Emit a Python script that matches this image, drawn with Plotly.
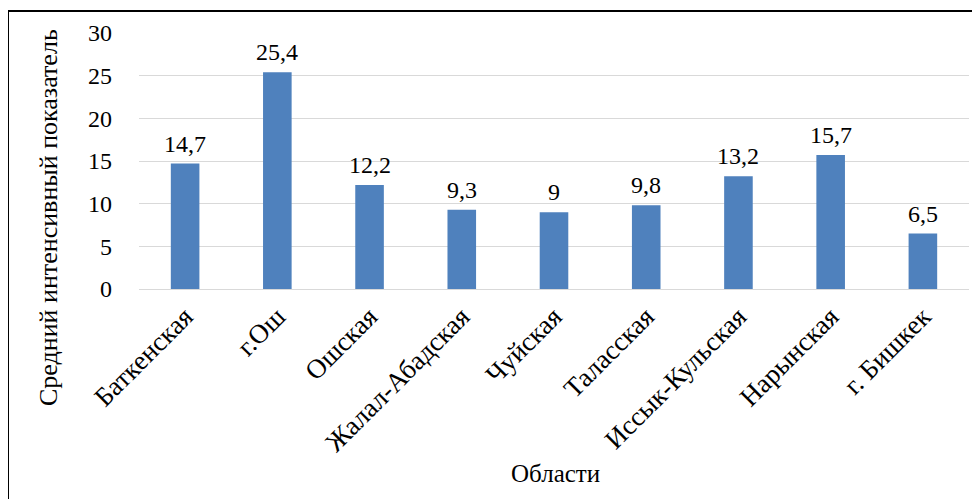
import plotly.graph_objects as go

categories = ["Баткенская", "г.Ош", "Ошская", "Жалал-Абадская", "Чуйская",
              "Таласская", "Иссык-Кульская", "Нарынская", "г. Бишкек"]
values = [14.7, 25.4, 12.2, 9.3, 9, 9.8, 13.2, 15.7, 6.5]
y_ticks = [0, 5, 10, 15, 20, 25, 30]
y_title = "Средний интенсивный показатель"
x_title = "Области"

labels = [str(v).replace(".", ",") for v in values]

FONT = "Liberation Serif"
W, H = 980, 499
OFF = 8  # page body offset
L, R, T, B = 131, 19, 25, 218
pw, ph = W - L - R, H - T - B

def px_x(x):
    return (x - OFF - L) / pw

def px_y(y):
    return (H - B - (y - OFF)) / ph

fig = go.Figure(go.Bar(
    x=categories, y=values,
    marker=dict(color="#4F81BD", line=dict(width=0)),
    width=0.31, cliponaxis=False,
))

label_annotations = [
    dict(x=c, y=v, text=t, xref="x", yref="y", showarrow=False,
         yanchor="middle", xanchor="center", yshift=20,
         font=dict(family=FONT, size=24, color="black"))
    for c, v, t in zip(categories, values, labels)
]

fig.update_layout(
    width=W, height=H,
    margin=dict(l=L, r=R, t=T, b=B, autoexpand=False),
    paper_bgcolor="white", plot_bgcolor="white",
    font=dict(family=FONT, size=22, color="black"),
    showlegend=False,
    xaxis=dict(tickangle=-45, tickfont=dict(family=FONT, size=27, color="black"),
               showgrid=False, showline=True, linecolor="#D9D9D9", linewidth=1,
               ticks="", automargin=False),
    yaxis=dict(range=[0, 30], tickvals=y_ticks,
               tickfont=dict(family=FONT, size=24, color="black"),
               showgrid=True, gridcolor="#D9D9D9", gridwidth=1,
               zeroline=False, showline=False, ticks="", ticklabelstandoff=26,
               automargin=False),
    annotations=label_annotations + [
        dict(text=y_title, xref="paper", yref="paper", x=px_x(48), y=px_y(218),
             textangle=-90, showarrow=False,
             font=dict(family=FONT, size=26, color="black"),
             xanchor="center", yanchor="middle"),
        dict(text=x_title, xref="paper", yref="paper", x=px_x(555), y=px_y(473),
             showarrow=False, font=dict(family=FONT, size=25, color="black"),
             xanchor="center", yanchor="middle"),
    ],
    shapes=[dict(type="rect", xref="paper", yref="paper",
                 x0=px_x(8), x1=px_x(995), y0=px_y(515), y1=px_y(11),
                 line=dict(color="black", width=2), layer="above")],
)

fig.write_html("out.html")
